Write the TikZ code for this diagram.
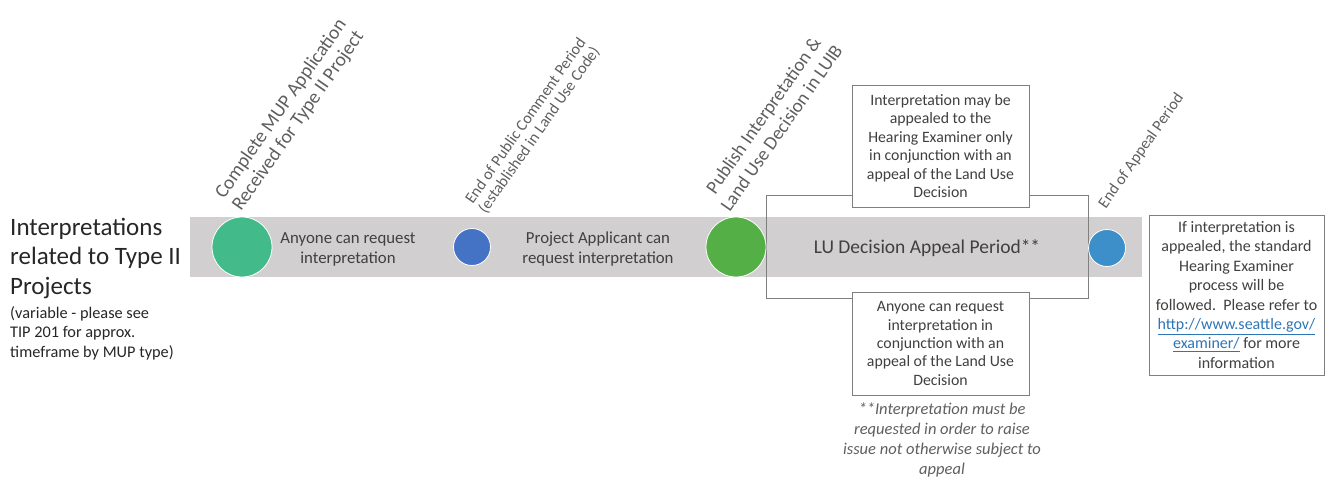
\documentclass[tikz,border=0pt]{standalone}
\usepackage{fontspec}
\setmainfont{Carlito}
\definecolor{bargray}{RGB}{209,207,207}
\definecolor{boxgray}{RGB}{127,127,127}
\definecolor{txtgray}{RGB}{64,64,64}
\definecolor{rotgray}{RGB}{95,95,95}
\definecolor{teal1}{RGB}{67,186,138}
\definecolor{blue1}{RGB}{68,114,196}
\definecolor{green1}{RGB}{84,176,70}
\definecolor{blue2}{RGB}{60,143,200}
\definecolor{linkblue}{RGB}{46,117,182}
\begin{document}
\begin{tikzpicture}[x=1pt,y=-1pt,
  txt/.style={text=txtgray, align=center, inner sep=0pt},
  dot/.style={circle, draw=white, line width=0.8pt, inner sep=0pt},
  note/.style={draw=boxgray, line width=0.8pt, fill=white, align=center, text=txtgray, inner sep=0pt, font=\fontsize{15.8}{18.4}\selectfont},
  rot/.style={rotate=55, anchor=south west, align=center, inner sep=0pt, text=rotgray}]
\useasboundingbox (0,0) rectangle (1328,478);
% bar
\node[fill=bargray, minimum width=952pt, minimum height=60pt, inner sep=0pt] (bar) at (666,247) {};
% big appeal box
\node[draw=boxgray, line width=0.8pt, minimum width=322pt, minimum height=103pt, inner sep=0pt] (lubox) at (927,246.5) {};
\node[txt, font=\fontsize{19.5}{22}\selectfont] (lutext) at (927,248) {LU Decision Appeal Period**};
% notes
\node[note, minimum width=177pt, minimum height=122pt] (top) at (940.5,146) {Interpretation may be\\appealed to the\\Hearing Examiner only\\in conjunction with an\\appeal of the Land Use\\Decision};
\node[note, minimum width=177pt, minimum height=103pt] (bot) at (940.5,343.5) {Anyone can request\\interpretation in\\conjunction with an\\appeal of the Land Use\\Decision};
\node[note, minimum width=175pt, minimum height=160pt, font=\fontsize{16}{19.4}\selectfont] (right) at (1236.5,295) {If interpretation is\\appealed, the standard\\Hearing Examiner\\process will be\\followed.\ \ Please refer to\\\textcolor{linkblue}{\underline{http://www.seattle.gov/}}\\\textcolor{linkblue}{\underline{examiner/}} for more\\information};
\node[txt, text=rotgray, anchor=north, font=\itshape\fontsize{16.5}{19.8}\selectfont] (foot) at (942,403) {**Interpretation must be\\requested in order to raise\\issue not otherwise subject to\\appeal};
% circles
\node[dot, fill=teal1, minimum size=60pt] (c1) at (242,247) {};
\node[dot, fill=blue1, minimum size=37pt] (c2) at (472,247) {};
\node[dot, fill=green1, minimum size=60pt] (c3) at (736,247) {};
\node[dot, fill=blue2, minimum size=37pt] (c4) at (1107,248) {};
% phase texts
\node[txt, font=\fontsize{16.8}{20}\selectfont] (p1) at (348,249) {Anyone can request\\interpretation};
\node[txt, font=\fontsize{16.8}{20}\selectfont] (p2) at (598,249) {Project Applicant can\\request interpretation};
% rotated milestone labels
\node[rot, font=\fontsize{19.5}{21}\selectfont] (l1) at (244,214) {Complete MUP Application\\Received for Type II Project};
\node[rot, font=\fontsize{16}{16.5}\selectfont] (l2) at (488,216) {End of Public Comment Period\\(established in Land Use Code)};
\node[rot, font=\fontsize{19}{22}\selectfont] (l3) at (730,213) {Publish Interpretation \&\\Land Use Decision in LUIB};
\node[rot, font=\fontsize{16}{16.5}\selectfont] (l4) at (1108,211) {End of Appeal Period};
% title
\node[anchor=north west, align=left, inner sep=0pt, text=black!85, font=\fontsize{25}{29.5}\selectfont] (title) at (10,218) {Interpretations\\related to Type II\\Projects};
\node[anchor=north west, align=left, inner sep=0pt, text=black!85, font=\fontsize{16.3}{19.5}\selectfont] (sub) at (10,306) {(variable - please see\\TIP 201 for approx.\\timeframe by MUP type)};
\end{tikzpicture}
\end{document}
